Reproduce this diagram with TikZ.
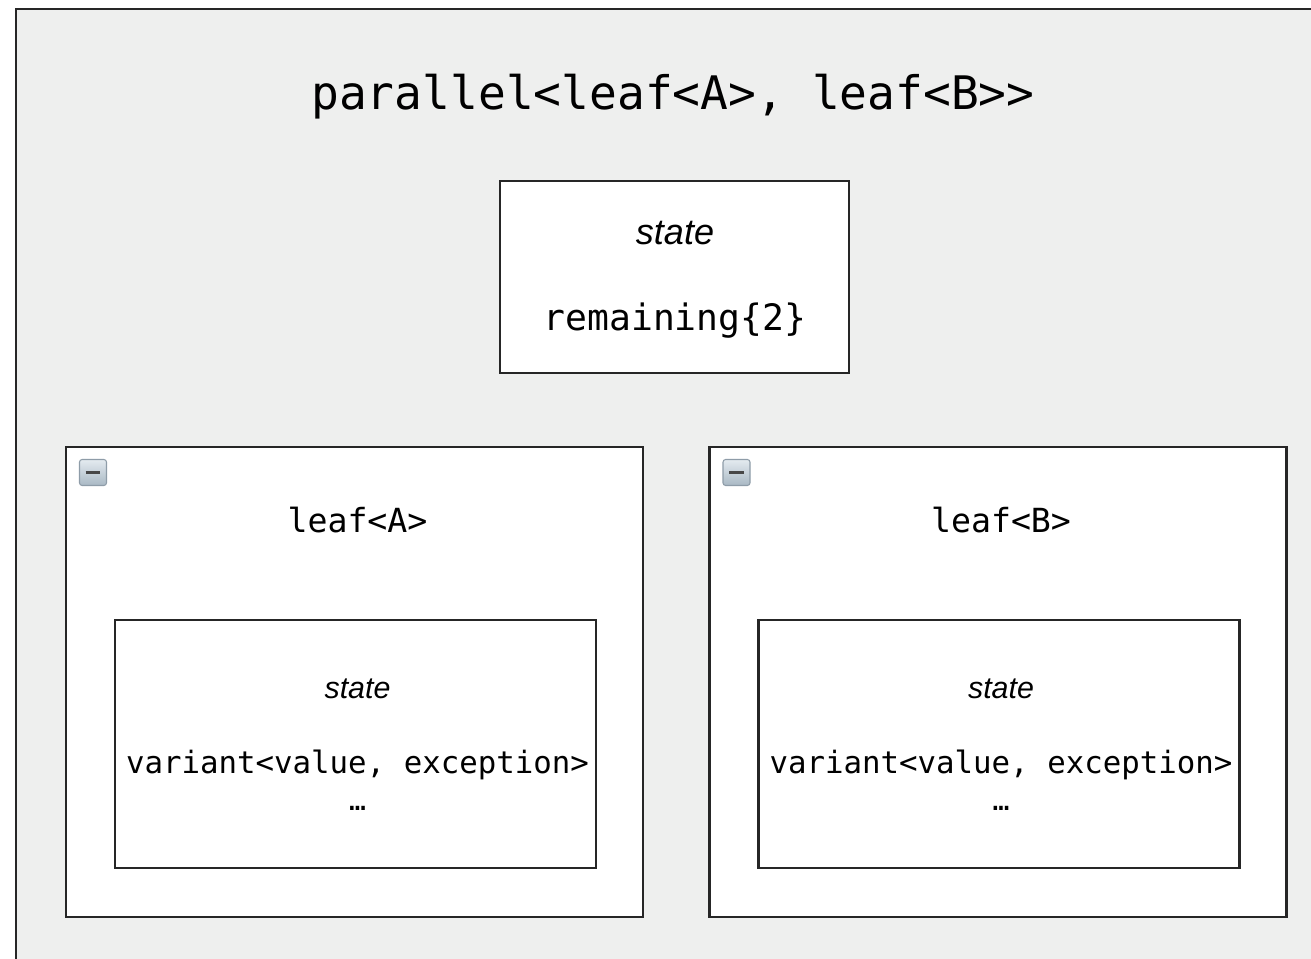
\documentclass[tikz,border=0pt]{standalone}
\usepackage{fontspec}
\setmainfont{Liberation Sans}
\newfontfamily\codefont{DejaVu Sans Mono}
\usetikzlibrary{positioning}
\definecolor{framegray}{HTML}{EEEFEE}
\definecolor{edgegray}{HTML}{262626}
\definecolor{icontop}{HTML}{E4EBF0}
\definecolor{iconbot}{HTML}{A9B8C4}
\definecolor{iconedge}{HTML}{8E9CA8}
\begin{document}
\begin{tikzpicture}[x=0.02cm,y=-0.02cm,
	box/.style={draw=edgegray, line width=1.3pt, fill=white, rectangle, inner sep=0pt},
	leafbox/.style={box, minimum width=11.54cm, minimum height=9.4cm},
	statebox/.style={box, minimum width=9.62cm, minimum height=4.96cm},
	iconbox/.style={draw=iconedge, line width=0.6pt, rounded corners=1.5pt,
		top color=icontop, bottom color=iconbot,
		minimum width=0.54cm, minimum height=0.52cm, inner sep=0pt,
		path picture={\draw[line width=1.8pt, edgegray!85]
			([xshift=-0.15cm]path picture bounding box.center) --
			([xshift=0.15cm]path picture bounding box.center);}},
	code/.style={font=\codefont, text=black, anchor=base},
	tag/.style={font=\itshape, text=black, anchor=base}]
	\useasboundingbox (0,0) rectangle (1311,959);
	\clip (0,0) rectangle (1311,959);
	% outer frame, runs off the right and bottom
	\draw[draw=edgegray, line width=1.3pt, fill=framegray] (16,9) rectangle (1340,990);
	\node[code, font=\codefont\fontsize{26.3}{30}\selectfont] (title) at (673,110)
	{parallel<leaf<A>, leaf<B>>};
	% shared state
	\node[box, minimum width=6.98cm, minimum height=3.84cm] (st) at (674.5,277) {};
	\node[tag, font=\itshape\fontsize{20.5}{24}\selectfont] (sttag) at (675,245) {state};
	\node[code, font=\codefont\fontsize{20.7}{24}\selectfont] (strem) at (675,331)
	{remaining\{2\}};
	% the two leaves
	\foreach \nm/\cx/\lbl in {a/354.5/A, b/998/B} {
		\node[leafbox] (leaf\nm) at (\cx,682) {};
		\node[iconbox] (icon\nm) at ({\cx-261.5},472.5) {};
		\node[code, font=\codefont\fontsize{18.9}{22}\selectfont] (name\nm) at (\cx+3,532)
		{leaf<\lbl>};
		\node[statebox] (inner\nm) at (\cx+1,744) {};
		\node[tag, font=\itshape\fontsize{17.3}{20}\selectfont] (tag\nm) at (\cx+3,698) {state};
		\node[code, font=\codefont\fontsize{17.5}{20}\selectfont] (var\nm) at (\cx+3,773)
		{variant<value, exception>};
		\node[code, font=\codefont\fontsize{16}{18}\selectfont] (dots\nm) at (\cx+3,810) {…};
	}
\end{tikzpicture}
\end{document}
